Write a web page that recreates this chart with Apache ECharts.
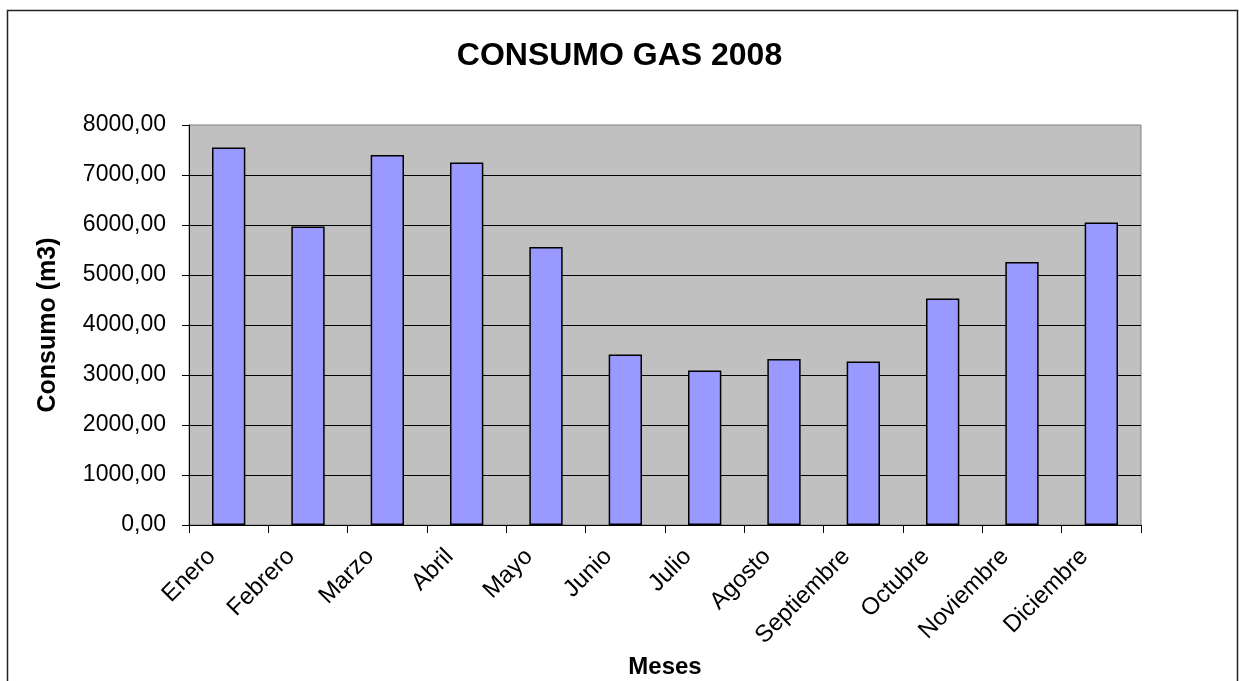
<!DOCTYPE html>
<html>
<head>
<meta charset="utf-8">
<script src="https://cdn.jsdelivr.net/npm/echarts@6/dist/echarts.min.js"></script>
<style>
  html, body { margin: 0; padding: 0; background: #fff; }
  #grafico { width: 1239px; height: 681px; }
</style>
</head>
<body>
<div id="grafico"></div>
<script>
// datos del grafico
var meses = ['Enero', 'Febrero', 'Marzo', 'Abril', 'Mayo', 'Junio', 'Julio',
  'Agosto', 'Septiembre', 'Octubre', 'Noviembre', 'Diciembre'];
var consumo = [7550, 5970, 7400, 7250, 5560, 3410, 3090, 3320, 3270, 4530, 5260, 6050];
var ejeY = { min: 0, max: 8000, interval: 1000 };

var fuente = '"Liberation Sans", Arial, sans-serif';

var chart = echarts.init(document.getElementById('grafico'));

var option = {
  animation: false,
  textStyle: { fontFamily: fuente },
  title: {
    text: 'CONSUMO GAS 2008',
    left: 'center',
    top: 35,
    textStyle: { fontFamily: fuente, fontSize: 32, fontWeight: 'bold', color: '#000' }
  },
  graphic: [{
    type: 'rect',
    shape: { x: 7.5, y: 10.5, width: 1230, height: 700 },
    style: { fill: null, stroke: '#222', lineWidth: 1.5 },
    silent: true
  }],
  grid: {
    left: 189, right: 98, top: 125, bottom: 156,
    outerBoundsMode: 'none',
    containLabel: false,
    show: true,
    backgroundColor: '#C0C0C0',
    borderColor: '#808080',
    borderWidth: 1
  },
  xAxis: {
    type: 'category',
    data: meses,
    name: 'Meses',
    nameLocation: 'middle',
    nameGap: 122,
    nameTextStyle: { fontFamily: fuente, fontSize: 24, fontWeight: 'bold', color: '#000' },
    axisLine: { lineStyle: { color: '#000', width: 1 } },
    axisTick: { show: true, length: 8, alignWithLabel: false, lineStyle: { color: '#000' } },
    axisLabel: {
      rotate: 45,
      margin: 11,
      padding: [0, 24, 0, 0],
      fontFamily: fuente,
      fontSize: 24,
      color: '#000'
    }
  },
  yAxis: {
    type: 'value',
    min: ejeY.min,
    max: ejeY.max,
    interval: ejeY.interval,
    name: 'Consumo (m3)',
    nameLocation: 'middle',
    nameRotate: 90,
    nameGap: 128,
    nameTextStyle: { fontFamily: fuente, fontSize: 25, fontWeight: 'bold', color: '#000' },
    axisLine: { show: true, lineStyle: { color: '#000', width: 1 } },
    axisTick: { show: true, length: 7, lineStyle: { color: '#000' } },
    axisLabel: {
      margin: 23,
      fontFamily: fuente,
      fontSize: 23,
      color: '#000',
      formatter: function (v) { return v.toFixed(2).replace('.', ','); }
    },
    splitLine: { show: true, showMaxLine: false, lineStyle: { color: '#000', width: 1 } }
  },
  series: [{
    name: 'Consumo',
    type: 'bar',
    data: consumo,
    barCategoryGap: '58%',
    itemStyle: { color: '#9999FF', borderColor: '#000', borderWidth: 1.5 }
  }]
};

chart.setOption(option);
</script>
</body>
</html>
